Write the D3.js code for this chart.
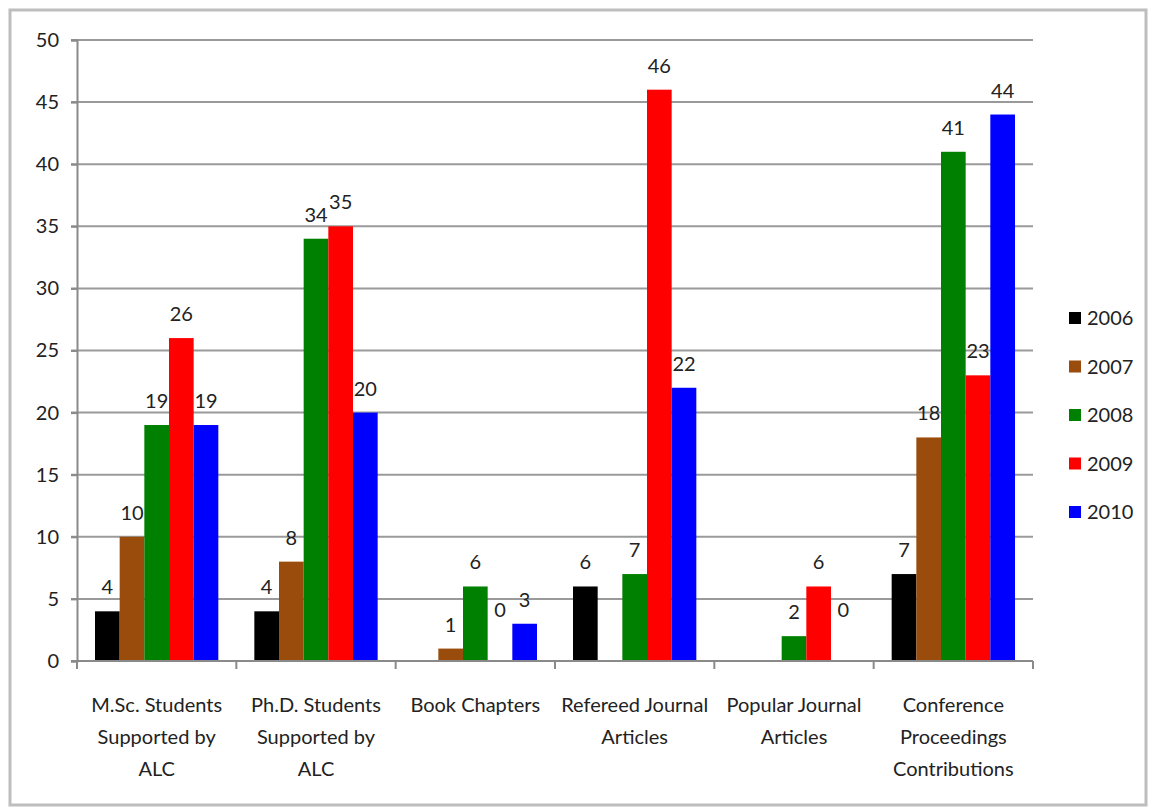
<!DOCTYPE html>
<html>
<head>
<meta charset="utf-8">
<script src="https://cdn.jsdelivr.net/npm/d3@7"></script>
<style>
  html, body { margin: 0; padding: 0; background: #fff; }
  svg { display: block; }
  text { font-family: Lato, "Open Sans", sans-serif; fill: #222; }
</style>
</head>
<body>
<svg id="chart" width="1152" height="808"></svg>
<script>
// Output categories (x-axis groups), drawn with line breaks
const categories = [
  ["M.Sc. Students", "Supported by", "ALC"],
  ["Ph.D. Students", "Supported by", "ALC"],
  ["Book Chapters"],
  ["Refereed Journal", "Articles"],
  ["Popular Journal", "Articles"],
  ["Conference", "Proceedings", "Contributions"]
];
const years = ["2006", "2007", "2008", "2009", "2010"];
const colors = ["#000000", "#994c0c", "#008000", "#ff0000", "#0000ff"];

// One array per year; null means no bar and no label
const v2006 = [4, 4, null, 6, null, 7];
const v2007 = [10, 8, 1, null, null, 18];
const v2008 = [19, 34, 6, 7, 2, 41];
const v2009 = [26, 35, 0, 46, 6, 23];
const v2010 = [19, 20, 3, 22, 0, 44];
const series = [v2006, v2007, v2008, v2009, v2010];

const yTicks = [0, 5, 10, 15, 20, 25, 30, 35, 40, 45, 50];

const FONT = 20;
const svg = d3.select("#chart");

// outer frame
svg.append("rect")
  .attr("x", 10).attr("y", 10).attr("width", 1136).attr("height", 795)
  .attr("fill", "none").attr("stroke", "#bdbdbd").attr("stroke-width", 3);

const plot = { left: 77, right: 1033, top: 40, bottom: 661 };

const x0 = d3.scaleBand()
  .domain(d3.range(categories.length))
  .range([plot.left, plot.right])
  .paddingInner(0).paddingOuter(0);

const x1 = d3.scaleBand()
  .domain(d3.range(years.length))
  .range([0, x0.bandwidth()])
  .paddingOuter(0.73).paddingInner(0);

const y = d3.scaleLinear().domain([0, 50]).range([plot.bottom, plot.top]);

// gridlines
svg.append("g")
  .selectAll("line")
  .data(yTicks.filter(d => d > 0))
  .join("line")
  .attr("x1", plot.left - 6).attr("x2", plot.right)
  .attr("y1", d => y(d)).attr("y2", d => y(d))
  .attr("stroke", "#9a9a9a").attr("stroke-width", 2);

// y axis
const yAxis = svg.append("g")
  .attr("transform", `translate(${plot.left},0)`)
  .call(d3.axisLeft(y).tickValues(yTicks).tickSize(6).tickPadding(12));
yAxis.select(".domain").attr("stroke", "#8a8a8a").attr("stroke-width", 2);
yAxis.selectAll(".tick line").attr("stroke", "#8a8a8a").attr("stroke-width", 2);
yAxis.selectAll(".tick text")
  .attr("font-size", FONT)
  .attr("font-family", "Lato, sans-serif")
  .attr("fill", "#222");

// bars
const groups = svg.append("g")
  .selectAll("g")
  .data(categories.map((c, i) => i))
  .join("g")
  .attr("transform", i => `translate(${x0(i)},0)`);

groups.selectAll("rect")
  .data(i => series.map((s, k) => ({ k, v: s[i] })).filter(d => d.v !== null && d.v > 0))
  .join("rect")
  .attr("x", d => x1(d.k))
  .attr("y", d => y(d.v))
  .attr("width", x1.bandwidth())
  .attr("height", d => y(0) - y(d.v))
  .attr("fill", d => colors[d.k]);

// value labels
groups.selectAll("text")
  .data(i => series.map((s, k) => ({ k, v: s[i] })).filter(d => d.v !== null))
  .join("text")
  .attr("x", d => x1(d.k) + x1.bandwidth() / 2)
  .attr("y", d => d.v === 0 ? y(0) - 44 : y(d.v) - 17)
  .attr("text-anchor", "middle")
  .attr("font-size", FONT)
  .text(d => d.v);

// x axis
const xAxisG = svg.append("g");
xAxisG.append("line")
  .attr("x1", plot.left - 6).attr("x2", plot.right)
  .attr("y1", plot.bottom).attr("y2", plot.bottom)
  .attr("stroke", "#8a8a8a").attr("stroke-width", 2);
xAxisG.selectAll("line.tk")
  .data(d3.range(categories.length + 1))
  .join("line")
  .attr("class", "tk")
  .attr("x1", i => i < categories.length ? x0(i) : plot.right)
  .attr("x2", i => i < categories.length ? x0(i) : plot.right)
  .attr("y1", plot.bottom).attr("y2", plot.bottom + 8)
  .attr("stroke", "#8a8a8a").attr("stroke-width", 2);

xAxisG.selectAll("text")
  .data(categories.map((c, i) => i))
  .join("text")
  .attr("text-anchor", "middle")
  .attr("font-size", FONT)
  .each(function (i) {
    const t = d3.select(this);
    categories[i].forEach((line, j) => {
      t.append("tspan")
        .attr("x", x0(i) + x0.bandwidth() / 2)
        .attr("y", 712 + j * 32)
        .text(line);
    });
  });

// legend
const legend = svg.append("g").attr("transform", "translate(1069,318)");
const li = legend.selectAll("g")
  .data(years)
  .join("g")
  .attr("transform", (d, i) => `translate(0,${i * 48.5})`);
li.append("rect")
  .attr("x", 0).attr("y", -6).attr("width", 12).attr("height", 12)
  .attr("fill", (d, i) => colors[i]);
li.append("text")
  .attr("x", 18).attr("y", 7)
  .attr("font-size", FONT)
  .text(d => d);
</script>
</body>
</html>
